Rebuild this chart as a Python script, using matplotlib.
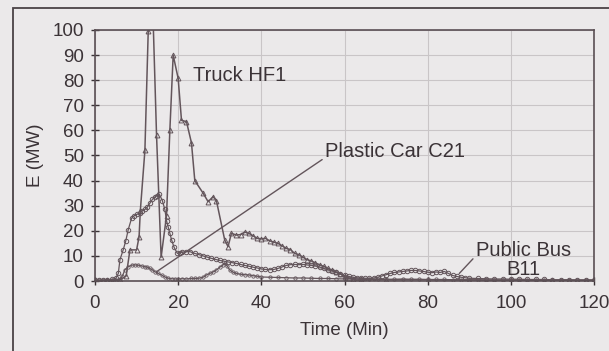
import matplotlib
matplotlib.use("Agg")
import matplotlib.pyplot as plt
from matplotlib.patches import Rectangle

# ---------------- data ----------------
truck_t = [0, 3, 6, 7.5, 8.4, 10, 10.6, 10.9, 12, 12.8, 13.6, 14.8, 15.9, 17.2, 18, 18.8,
           20, 20.8, 22, 23.2, 24, 26, 27.2, 28.4, 29.2, 31.2, 32, 32.8, 34, 35, 36, 37,
           38, 39, 40, 41, 42, 43, 44, 45, 46, 47, 48, 49, 50, 51, 52, 53, 54, 55, 56,
           57, 58, 59, 60, 61, 62, 64, 70, 80, 90, 100, 110, 120]
truck_e = [0, 0.3, 0.5, 2, 12.4, 12.4, 17.6, 28, 52, 99.5, 125, 58, 9.5, 26, 60, 90,
           80.7, 64, 63.5, 55, 40, 35, 31.6, 33.6, 32, 16.3, 13.7, 19, 18.3, 18.5, 19.5, 19,
           18, 17, 16.8, 17, 16, 15.5, 15, 14, 13, 12.5, 11, 10.5, 9.5, 8.5, 8, 7.2, 6.5, 5.8, 5,
           4.2, 3.5, 2.8, 1.8, 1.2, 0.9, 0.7, 0.5, 0.5, 0.4, 0.3, 0.3, 0.3]

bus_t = [0, 1, 2, 3, 4, 5, 5.6, 6, 6.8, 7.4, 8, 8.8, 9.4, 10, 10.8, 11.4, 12, 12.6, 13.2,
         13.8, 14.4, 15, 15.5, 16.2, 16.8, 17.2, 17.6, 18, 18.4, 19, 19.8, 20.4, 21, 22,
         22.8, 24, 25, 26, 27, 28, 29, 30, 31, 32, 33, 34, 35, 36, 37, 38, 39, 40, 41, 42,
         43, 44, 45, 46, 47, 48, 49, 50, 51, 52, 53, 54, 55, 56, 57, 58, 59, 60, 61, 62,
         63, 64, 65, 66, 67, 68, 69, 70, 71, 72, 73, 74, 75, 76, 77, 78, 79, 80, 81, 82,
         83, 84, 85, 86, 87, 88, 89, 90, 92, 94, 96, 98, 100, 102, 104, 106, 108, 110,
         112, 114, 116, 118, 120]
bus_e = [0.3, 0.3, 0.4, 0.5, 0.6, 1, 3, 8.5, 12.5, 16, 20.5, 25, 26, 26.5, 27, 28, 28.5,
         29.5, 31, 32.5, 33.5, 34, 34.5, 32, 28.5, 24, 21.5, 19, 16.5, 13.5, 11, 11.3, 11.5,
         11.7, 11.7, 11, 10.5, 10, 9.5, 9, 8.6, 8.2, 7.9, 7.6, 7.3, 7, 6.6, 6.2, 5.9, 5.5,
         5.2, 4.8, 4.6, 4.5, 4.6, 5, 5.6, 6.2, 6.5, 6.6, 6.5, 6.6, 6.4, 6.2, 6, 5.6, 5, 4.5,
         4, 3.4, 2.8, 2.2, 1.8, 1.5, 1.3, 1.2, 1.1, 1, 1.2, 1.5, 2, 2.5, 3, 3.4, 3.6, 3.8,
         4, 4.2, 4.2, 4, 3.8, 3.5, 3.3, 3.6, 3.4, 3.8, 3, 2.2, 1.8, 1.5, 1.3, 1.1, 1, 0.9,
         0.8, 0.8, 0.7, 0.7, 0.6, 0.6, 0.6, 0.5, 0.5, 0.5, 0.4, 0.4, 0.4]

car_t = [0, 1, 2, 3, 4, 5, 6, 6.6, 7.2, 8, 8.8, 9.6, 10.4, 11.2, 12, 12.6, 13.2, 13.8,
         14.4, 15.2, 16, 16.8, 17.6, 18.4, 19.2, 20, 21, 22, 23, 24, 25, 26, 26.8, 27.6,
         28.4, 29.2, 30, 30.8, 31.2, 31.8, 32.4, 33.2, 34, 35, 36, 37, 38, 39, 40, 42, 44,
         46, 48, 50, 52, 54, 56, 58, 60, 62, 64, 66, 68, 70, 72, 74, 76, 78, 80, 82, 84,
         86, 88, 90, 92, 94, 96, 98, 100, 102, 104, 106, 108, 110, 112, 114, 116, 118, 120]
car_e = [0.2, 0.3, 0.3, 0.4, 0.4, 0.5, 0.8, 2, 4.5, 5.7, 6.3, 6.4, 6.3, 6, 5.7, 5.5, 5,
         4.4, 3.7, 3, 2.4, 1.6, 1.1, 0.9, 0.8, 0.8, 0.9, 0.8, 1, 1, 1.1, 1.5, 2.4, 3, 3.6,
         4.4, 5.5, 6.4, 7, 6, 4.4, 3.5, 3, 2.7, 2.5, 2.4, 2.1, 1.9, 1.6, 1.5, 1.4, 1.3, 1.2,
         1.2, 1.1, 1, 1, 0.9, 0.8, 0.8, 0.7, 0.8, 0.8, 0.7, 0.7, 0.8, 0.7, 0.7, 0.6, 0.6,
         0.6, 0.5, 0.5, 0.5, 0.5, 0.4, 0.4, 0.4, 0.4, 0.4, 0.3, 0.3, 0.3, 0.3, 0.3, 0.3, 0.3,
         0.3, 0.3]

x_ticks = [0, 20, 40, 60, 80, 100, 120]
y_ticks = [0, 10, 20, 30, 40, 50, 60, 70, 80, 90, 100]

# ---------------- style ----------------
BG = "#ebe9ea"
INK = "#3b3337"
LINE = "#63555b"
GRID = "#c9c5c7"

plt.rcParams["font.family"] = ["Liberation Sans", "DejaVu Sans"]

fig = plt.figure(figsize=(6.09, 3.51), dpi=100, facecolor=BG)
ax = fig.add_axes([95 / 609, 1 - 281 / 351, (594 - 95) / 609, (281 - 30) / 351])
ax.set_facecolor(BG)

# outer frame of the scanned figure
fig.patches.append(Rectangle((13 / 609, -0.1), 1.0, 1.1 - 8 / 351,
                             transform=fig.transFigure, fill=False,
                             edgecolor="#4a4246", linewidth=1.3))

ax.plot(bus_t, bus_e, color=LINE, lw=0.9, marker="o", ms=3.2, mfc="none",
        mec=LINE, mew=0.7)
ax.plot(car_t, car_e, color=LINE, lw=0.9, marker="o", ms=2.4, mfc="none",
        mec=LINE, mew=0.6)
ax.plot(truck_t, truck_e, color=LINE, lw=1.1, marker="^", ms=3.5, mfc="none",
        mec=LINE, mew=0.7)

ax.set_xlim(0, 120)
ax.set_ylim(0, 100)
ax.set_xticks(x_ticks)
ax.set_yticks(y_ticks)
ax.tick_params(direction="inout", length=6, width=1.0, colors=INK, labelsize=13.5,
               labelcolor=INK)
ax.tick_params(axis="x", pad=7)
ax.tick_params(axis="y", pad=5)
ax.grid(True, color=GRID, lw=0.8)
ax.set_axisbelow(True)
for s in ax.spines.values():
    s.set_color("#5a4f54")
    s.set_linewidth(1.2)

ax.set_xlabel("Time (Min)", fontsize=13.5, color=INK, labelpad=7)
ax.set_ylabel("E (MW)", fontsize=13.5, color=INK, labelpad=6)

ax.text(23.6, 82, "Truck HF1", fontsize=14.5, color=INK, va="center", ha="left")
ax.annotate("Plastic Car C21", xy=(14.8, 3.7), xytext=(55.3, 51.4),
            fontsize=14.5, color=INK, va="center", ha="left",
            arrowprops=dict(arrowstyle="-", color=LINE, lw=1.0,
                            shrinkA=0, shrinkB=0, relpos=(-0.02, 0.1)))
ax.annotate("Public Bus\nB11", xy=(87.6, 3), xytext=(103, 8.5),
            fontsize=14.5, color=INK, va="center", ha="center", linespacing=1.0,
            arrowprops=dict(arrowstyle="-", color=LINE, lw=1.0,
                            shrinkA=0, shrinkB=0, relpos=(0.0, 0.6)))

fig.savefig("out.png", dpi=100, facecolor=BG)
